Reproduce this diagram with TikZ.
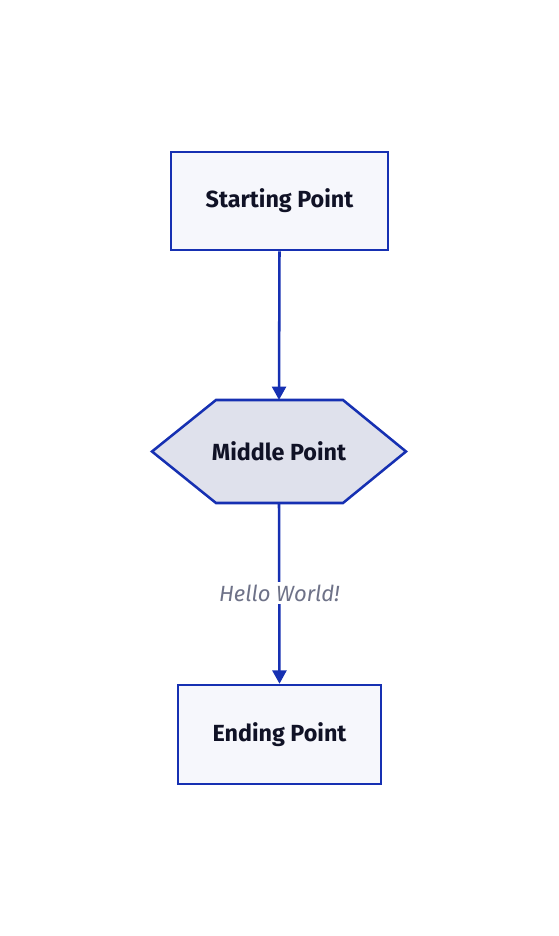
\documentclass[tikz,border=0pt]{standalone}
\usepackage{fontspec}
\setmainfont{Fira Sans}
\usetikzlibrary{arrows.meta,calc}
\definecolor{edge}{RGB}{22,48,178}
\definecolor{boxfill}{RGB}{246,247,252}
\definecolor{hexfill}{RGB}{223,225,236}
\definecolor{ink}{RGB}{16,18,38}
\definecolor{lbl}{RGB}{110,114,136}
\tikzset{
  box/.style={draw=edge, line width=1.9pt, fill=boxfill, inner sep=0pt, text=ink, font=\bfseries\fontsize{17.5}{20}\selectfont},
  hexlabel/.style={inner sep=0pt, text=ink, font=\bfseries\fontsize{17.5}{20}\selectfont, minimum width=190.5pt, minimum height=77pt},
  hexline/.style={draw=edge, line width=1.9pt, fill=hexfill, line join=miter},
  conn/.style={draw=edge, line width=1.9pt, -{Triangle[width=10.5pt,length=10pt]}},
  elabel/.style={fill=white, text=lbl, font=\itshape\fontsize{16.5}{19}\selectfont, inner sep=2pt}
}
\begin{document}
\begin{tikzpicture}[x=0.75pt,y=-0.75pt]
\useasboundingbox (0,0) rectangle (558,936);
\node[box, minimum width=162.75pt, minimum height=73.5pt] (s) at (279.5,201) {Starting Point};
\coordinate (hw) at (152,451.5);
\coordinate (hnw) at (216,400);
\coordinate (hne) at (343,400);
\coordinate (he) at (406,451.5);
\coordinate (hse) at (343,503);
\coordinate (hsw) at (216,503);
\path[hexline] (hw) -- (hnw) -- (hne) -- (he) -- (hse) -- (hsw) -- cycle;
\node[hexlabel] (m) at (279,451.5) {Middle Point};
\node[box, minimum width=152.25pt, minimum height=74.25pt] (e) at (279.5,734.5) {Ending Point};
\draw[conn] (s.south) -- (m.north);
\draw[conn] (m.south) -- node[elabel] (l) {Hello World!} (e.north);
\end{tikzpicture}
\end{document}
